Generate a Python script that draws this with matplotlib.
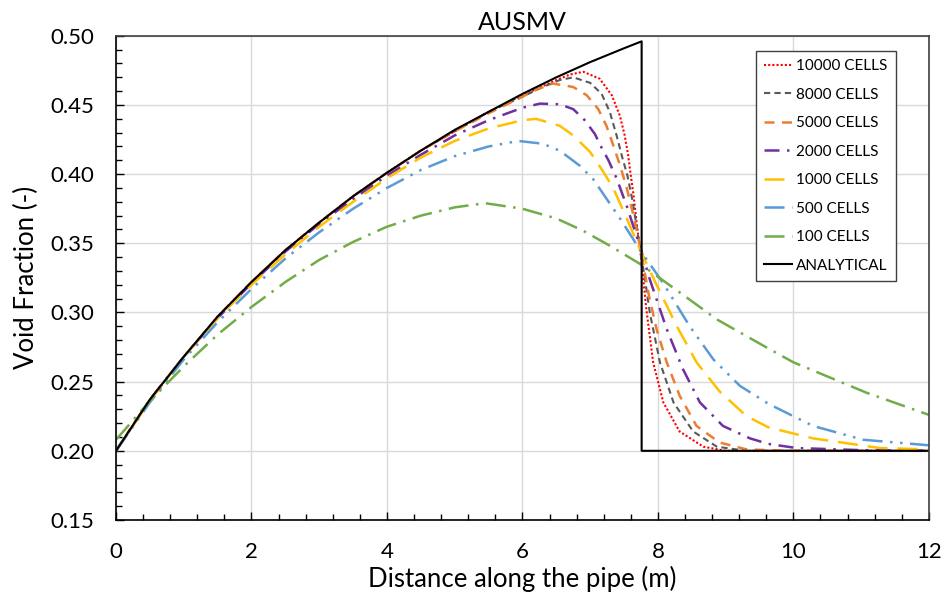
import matplotlib
matplotlib.use('Agg')
import matplotlib.pyplot as plt
from matplotlib.ticker import MultipleLocator, FormatStrFormatter

plt.rcParams['font.family'] = ['Lato', 'DejaVu Sans']

# values
x_analytical = [0, 0.5, 1, 1.5, 2, 2.5, 3, 3.5, 4, 4.5, 5, 5.5, 6, 6.5, 7, 7.5, 7.76, 7.76, 12]
y_analytical = [0.200, 0.237, 0.268, 0.297, 0.322, 0.345, 0.365, 0.384, 0.401, 0.417, 0.432,
                0.445, 0.458, 0.470, 0.481, 0.491, 0.496, 0.200, 0.200]

x_10000 = [0, 0.5, 1, 1.5, 2, 2.5, 3, 3.5, 4, 4.5, 5, 5.5, 6, 6.5, 6.7, 6.9, 7.14, 7.32, 7.44,
           7.51, 7.56, 7.60, 7.64, 7.69, 7.74, 7.78, 7.83, 7.93, 8.08, 8.32, 8.67, 9.0, 10, 12]
y_10000 = [0.200, 0.237, 0.268, 0.297, 0.322, 0.345, 0.365, 0.384, 0.401, 0.417, 0.431, 0.445,
           0.457, 0.468, 0.472, 0.474, 0.469, 0.457, 0.442, 0.428, 0.414, 0.399, 0.385, 0.363,
           0.345, 0.326, 0.302, 0.264, 0.235, 0.214, 0.203, 0.200, 0.200, 0.200]

x_8000 = [0, 0.5, 1, 1.5, 2, 2.5, 3, 3.5, 4, 4.5, 5, 5.5, 6, 6.3, 6.55, 6.75, 7.0, 7.17, 7.29,
          7.39, 7.48, 7.55, 7.62, 7.68, 7.74, 7.81, 7.88, 8.03, 8.23, 8.52, 8.87, 9.3, 10, 12]
y_8000 = [0.200, 0.237, 0.268, 0.297, 0.322, 0.345, 0.365, 0.384, 0.401, 0.417, 0.431, 0.445,
          0.456, 0.463, 0.468, 0.470, 0.466, 0.458, 0.445, 0.428, 0.411, 0.399, 0.382, 0.364,
          0.345, 0.324, 0.300, 0.264, 0.235, 0.214, 0.203, 0.200, 0.200, 0.200]

x_5000 = [0, 0.5, 1, 1.5, 2, 2.5, 3, 3.5, 4, 4.5, 5, 5.5, 6, 6.2, 6.45, 6.75, 6.95, 7.12, 7.24,
          7.34, 7.44, 7.54, 7.64, 7.74, 7.86, 7.98, 8.13, 8.32, 8.57, 8.91, 9.31, 10, 12]
y_5000 = [0.200, 0.237, 0.268, 0.297, 0.322, 0.345, 0.365, 0.384, 0.401, 0.417, 0.431, 0.444,
          0.456, 0.461, 0.4655, 0.463, 0.457, 0.447, 0.435, 0.421, 0.4065, 0.390, 0.370, 0.347,
          0.314, 0.288, 0.264, 0.240, 0.218, 0.206, 0.201, 0.200, 0.200]

x_2000 = [0, 0.5, 1, 1.5, 2, 2.5, 3, 3.5, 4, 4.5, 5, 5.5, 6, 6.26, 6.55, 6.75, 6.92, 7.07, 7.17,
          7.27, 7.39, 7.54, 7.74, 7.88, 8.13, 8.37, 8.62, 8.96, 9.36, 9.63, 10.05, 11, 12]
y_2000 = [0.200, 0.237, 0.268, 0.296, 0.321, 0.344, 0.364, 0.382, 0.399, 0.414, 0.428, 0.439,
          0.448, 0.451, 0.4505, 0.447, 0.439, 0.429, 0.419, 0.410, 0.397, 0.377, 0.347, 0.324,
          0.288, 0.259, 0.235, 0.218, 0.209, 0.205, 0.202, 0.2005, 0.200]

x_1000 = [0, 0.5, 1, 1.5, 2, 2.5, 3, 3.5, 4, 4.5, 5, 5.5, 6, 6.2, 6.55, 6.75, 7.0, 7.19, 7.34,
          7.54, 7.74, 7.98, 8.28, 8.57, 8.91, 9.31, 9.63, 10.29, 11.28, 12]
y_1000 = [0.200, 0.236, 0.268, 0.296, 0.320, 0.342, 0.362, 0.380, 0.397, 0.412, 0.424, 0.433,
          0.439, 0.440, 0.435, 0.428, 0.416, 0.402, 0.390, 0.368, 0.345, 0.320, 0.290, 0.264,
          0.243, 0.225, 0.217, 0.209, 0.202, 0.201]

x_500 = [0, 0.5, 1, 1.5, 2, 2.5, 3, 3.5, 4, 4.5, 5, 5.5, 5.94, 6.3, 6.55, 6.85, 7.05, 7.44,
         7.74, 8.08, 8.47, 8.82, 9.21, 9.63, 10.29, 11.03, 12]
y_500 = [0.200, 0.235, 0.266, 0.293, 0.317, 0.339, 0.358, 0.375, 0.390, 0.403, 0.413, 0.420,
         0.424, 0.422, 0.417, 0.406, 0.396, 0.368, 0.345, 0.321, 0.290, 0.266, 0.247, 0.234,
         0.218, 0.208, 0.204]

x_100 = [0, 0.5, 1, 1.5, 2, 2.5, 3, 3.5, 4, 4.5, 5, 5.45, 6, 6.5, 6.9, 7.3, 7.74, 8.28, 8.87,
         9.63, 10, 11.08, 12]
y_100 = [0.208, 0.236, 0.261, 0.284, 0.304, 0.322, 0.338, 0.351, 0.362, 0.370, 0.376, 0.379,
         0.375, 0.368, 0.359, 0.348, 0.335, 0.316, 0.295, 0.274, 0.264, 0.242, 0.226]

fig = plt.figure(figsize=(9.43, 5.97), dpi=100)
ax = fig.add_axes([0.123, 0.129, 0.862, 0.811])

ax.plot(x_10000, y_10000, color='#FF0000', lw=1.5, linestyle=(0, (1, 1)), label='10000 CELLS')
ax.plot(x_8000, y_8000, color='#595959', lw=1.5, linestyle=(0, (3, 2)), label='8000 CELLS')
ax.plot(x_5000, y_5000, color='#ED7D31', lw=1.8, linestyle=(0, (4, 3)), label='5000 CELLS')
ax.plot(x_2000, y_2000, color='#7030A0', lw=1.8, linestyle=(0, (6, 3, 1, 3)), label='2000 CELLS')
ax.plot(x_1000, y_1000, color='#FFC000', lw=1.8, linestyle=(0, (8, 4)), label='1000 CELLS')
ax.plot(x_500, y_500, color='#5B9BD5', lw=1.8, linestyle=(0, (8, 3, 1, 3, 1, 3)), label='500 CELLS')
ax.plot(x_100, y_100, color='#70AD47', lw=1.8, linestyle=(0, (8, 3, 1, 3)), label='100 CELLS')
ax.plot(x_analytical, y_analytical, color='black', lw=1.5, label='ANALYTICAL')

ax.set_xlim(0, 12)
ax.set_ylim(0.15, 0.50)
ax.xaxis.set_major_locator(MultipleLocator(2))
ax.xaxis.set_minor_locator(MultipleLocator(0.4))
ax.yaxis.set_major_locator(MultipleLocator(0.05))
ax.yaxis.set_minor_locator(MultipleLocator(0.01))
ax.yaxis.set_major_formatter(FormatStrFormatter('%.2f'))
ax.tick_params(which='major', direction='in', length=6, width=1, labelsize=16, pad=16)
ax.tick_params(which='minor', direction='in', length=4, width=1)
ax.tick_params(top=False, right=False, which='both')
ax.grid(True, which='major', color='#d9d9d9', lw=1)
ax.set_axisbelow(True)

for side in ['left', 'bottom']:
    ax.spines[side].set_color('black')
    ax.spines[side].set_linewidth(1.2)
for side in ['top', 'right']:
    ax.spines[side].set_color('#404040')
    ax.spines[side].set_linewidth(1.2)

ax.set_title('AUSMV', fontsize=18, pad=4)
ax.set_xlabel('Distance along the pipe (m)', fontsize=18.5, labelpad=3)
ax.set_ylabel('Void Fraction (-)', fontsize=18.5, labelpad=8)

leg = ax.legend(loc='upper right', bbox_to_anchor=(0.969, 0.985), fontsize=11,
                frameon=True, fancybox=False, edgecolor='#404040', framealpha=1,
                handlelength=1.8, handletextpad=0.3, labelspacing=0.95, borderpad=0.55)
leg.get_frame().set_linewidth(1.0)

plt.savefig('out.png', dpi=100)
